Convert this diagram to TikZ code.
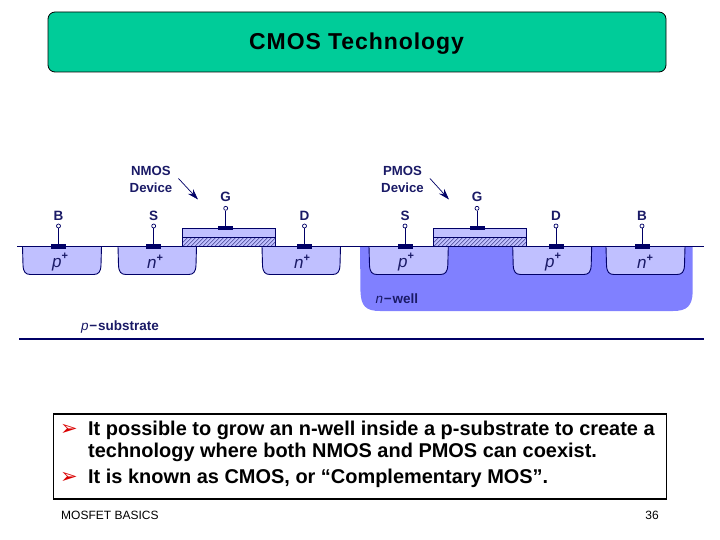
\documentclass[tikz,border=0pt]{standalone}
\usepackage{fontspec}
\setmainfont{Liberation Sans}
\newfontfamily\symfont{DejaVu Sans}
\usetikzlibrary{arrows.meta}
\definecolor{navy}{HTML}{000066}
\definecolor{lab}{HTML}{1A1A66}
\definecolor{lite}{HTML}{C0C0FF}
\definecolor{well}{HTML}{8080FF}
\definecolor{teal}{HTML}{00CC99}
\newcommand{\mkfont}[1]{\fontsize{#1}{#1}\selectfont}
\newcommand{\diffwell}[2]{% left,right
  \path[fill=lite] (#1,246.5) -- (#1+.5,265) .. controls (#1+.8,272) and (#1+3,274.5) .. (#1+8,274.5) -- (#2-8,274.5) .. controls (#2-3,274.5) and (#2-.8,272) .. (#2-.5,265) -- (#2,246.5) -- cycle;
  \draw[navy,line width=.9pt] (#1,246.5) -- (#1+.5,265) .. controls (#1+.8,272) and (#1+3,274.5) .. (#1+8,274.5) -- (#2-8,274.5) .. controls (#2-3,274.5) and (#2-.8,272) .. (#2-.5,265) -- (#2,246.5);
}
\tikzset{
  x=1pt,y=-1pt,
  termlabel/.style={font=\bfseries\mkfont{13.5},text=lab,inner sep=0pt},
  devlabel/.style={font=\bfseries\mkfont{13.2},text=lab,inner sep=0pt,align=center},
  dopelabel/.style={font=\mkfont{17},text=lab,inner sep=0pt},
  contact/.style={fill=navy,draw=none,minimum width=15pt,minimum height=4.4pt,inner sep=0pt,rectangle},
  gatecontact/.style={contact,minimum height=3.8pt},
  pin/.style={circle,draw=navy,fill=white,line width=.7pt,minimum size=4pt,inner sep=0pt},
  lead/.style={navy,line width=.9pt},
  devarrow/.style={navy,line width=.7pt,-{Stealth[length=11pt,width=7pt]}},
  bodytext/.style={font=\bfseries\mkfont{19.95},inner sep=0pt,anchor=base west},
  bullet/.style={font=\symfont\mkfont{21},text=red!85!black,inner sep=0pt,anchor=base west},
}
\newcommand{\dope}[1]{\textit{#1}\raisebox{.42em}{\bfseries\mkfont{11}+}}
\begin{document}
\begin{tikzpicture}
\useasboundingbox (0,0) rectangle (720,540);
% title
\node[draw=black,fill=teal,rounded corners=7pt,line width=.8pt,minimum width=618pt,minimum height=60pt,inner sep=0pt] (title) at (357,42) {};
\node[font=\bfseries\mkfont{23}\addfontfeature{LetterSpace=4},inner sep=0pt] (titletext) at (356.5,44) {CMOS Technology};
% n-well
\path[fill=well] (360,246.5) -- (360.5,292) .. controls (361,306) and (366,311) .. (380,311) -- (673,311) .. controls (687,311) and (692.2,306) .. (692.7,292) -- (692.7,246.5) -- cycle;
% diffusions
\diffwell{22.5}{101.5}
\diffwell{118}{196.5}
\diffwell{262}{340.5}
\diffwell{369}{448.3}
\diffwell{512.7}{591.7}
\diffwell{606}{685}
% gates
\foreach \gx/\gr in {182.3/275.7,433.3/526.7}{
  \fill[lite] (\gx,228.3) rectangle (\gr,246.5);
  \begin{scope}
    \clip (\gx,237.3) rectangle (\gr,246.5);
    \foreach \k in {0,4,...,110}
      \draw[navy!75,line width=.6pt] (\gx+\k-4,247) -- (\gx+\k+6,237);
  \end{scope}
  \draw[navy,line width=.9pt] (\gx,228.3) rectangle (\gr,246.5);
  \draw[navy,line width=.9pt] (\gx,237.3) -- (\gr,237.3);
}
% surface and substrate
\coordinate (surfL) at (17,246.5); \coordinate (surfR) at (704,246.5);
\coordinate (subL) at (19,338.7); \coordinate (subR) at (704,338.7);
\draw[navy,line width=.9pt] (surfL) -- (surfR);
\draw[navy,line width=1.8pt] (subL) -- (subR);
% terminals
\foreach \n/\x/\t in {
  nb/58.5/B,ns/153.7/S,nd/304.5/D,
  ps/405/S,pd/556/D,pb/642/B}{
  \node[contact] (c\n) at (\x,246.5) {};
  \node[pin] (p\n) at (\x,226) {};
  \draw[lead] (p\n) -- (c\n);
  \node[termlabel] (l\n) at (\x,215.5) {\t};
}
\foreach \n/\x in {ng/225.7,pg/477}{
  \node[gatecontact] (c\n) at (\x,228.2) {};
  \node[pin] (p\n) at (\x,208.3) {};
  \draw[lead] (p\n) -- (c\n);
  \node[termlabel] (l\n) at (\x,197) {G};
}
% doping labels
\node[dopelabel] (d1) at (60,262) {\dope{p}};
\node[dopelabel] (d2) at (155,262) {\dope{n}};
\node[dopelabel] (d3) at (302,262) {\dope{n}};
\node[dopelabel] (d4) at (406,262) {\dope{p}};
\node[dopelabel] (d5) at (553,262) {\dope{p}};
\node[dopelabel] (d6) at (645,262) {\dope{n}};
\node[font=\mkfont{13.5},text=lab,inner sep=0pt,anchor=base west] (nw) at (375.5,303) {\textit{n}\kern.6pt\textbf{−}\kern1pt\textbf{well}};
\node[font=\mkfont{13.5},text=lab,inner sep=0pt,anchor=base west] (ps) at (81,330) {\textit{p}\kern.6pt\textbf{−}\kern1pt\textbf{substrate}};
% device labels
\node[devlabel] (nmos) at (151,179.5) {NMOS\\[3pt]Device};
\node[devlabel] (pmos) at (402.5,179.5) {PMOS\\[3pt]Device};
\coordinate (nt) at (198,199.5); \coordinate (pt) at (449,199.5);
\draw[devarrow] (nmos.east) ++(6,-1) -- (nt);
\draw[devarrow] (pmos.east) ++(6,-1) -- (pt);
% body text
\node[draw=black,line width=1.6pt,minimum width=613pt,minimum height=85pt,inner sep=0pt] (box) at (360,456.5) {};
\node[bullet] (b1) at (60,435.5) {➢};
\node[bullet] (b2) at (60,483.5) {➢};
\node[bodytext] (t1) at (88,435) {It possible to grow an n-well inside a p-substrate to create a};
\node[bodytext] (t2) at (88,457.5) {technology where both NMOS and PMOS can coexist.};
\node[bodytext] (t3) at (88,483) {It is known as CMOS, or “Complementary MOS”.};
% footer
\node[font=\mkfont{12},inner sep=0pt,anchor=base west] (foot) at (61,519) {MOSFET BASICS};
\node[font=\mkfont{12},inner sep=0pt,anchor=base east] (page) at (659,519) {36};
\end{tikzpicture}
\end{document}
